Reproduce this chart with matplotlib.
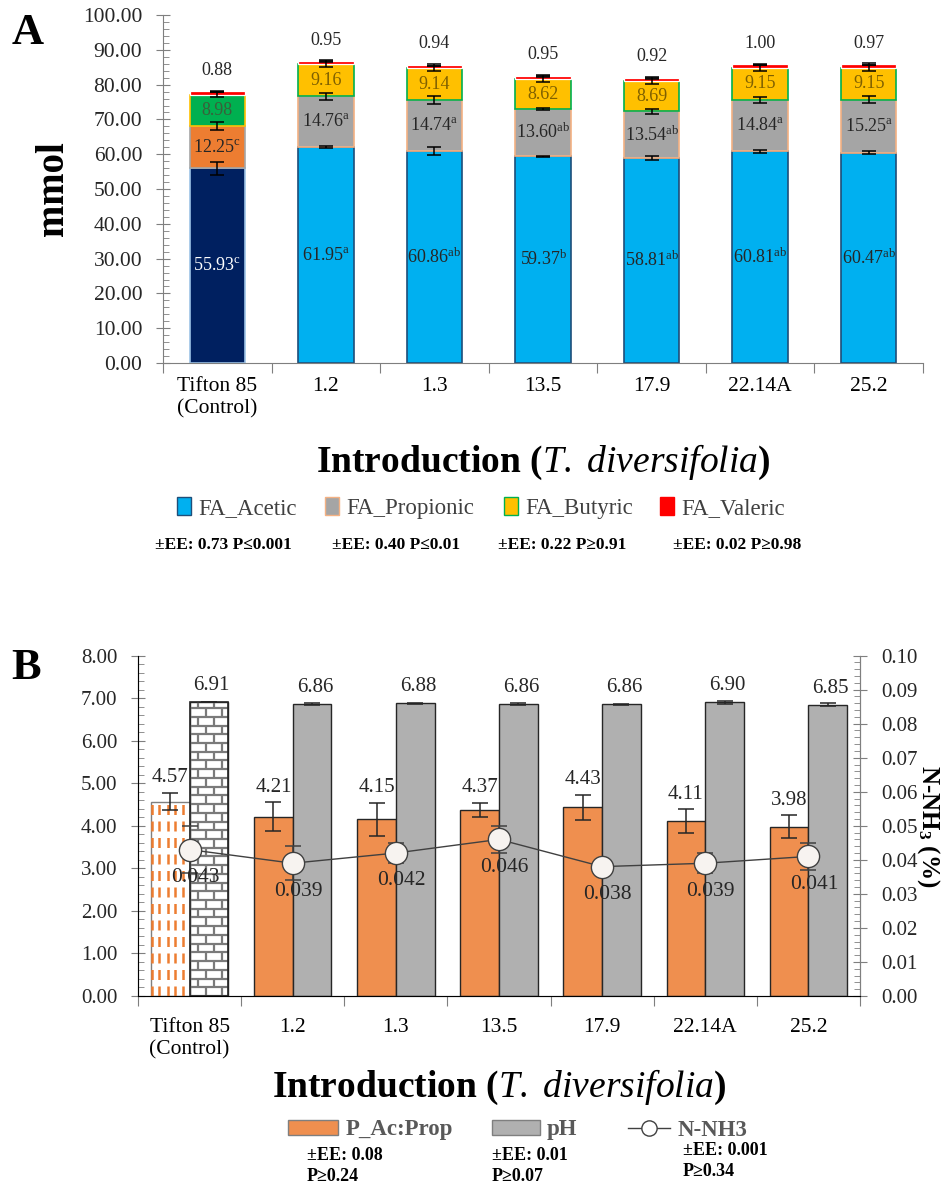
import numpy as np
import matplotlib
matplotlib.use("Agg")
import matplotlib.pyplot as plt
from matplotlib.patches import Patch
from matplotlib.lines import Line2D
from matplotlib.collections import LineCollection
from matplotlib.ticker import MultipleLocator, FormatStrFormatter

plt.rcParams['font.family'] = ['Liberation Serif', 'DejaVu Serif']
plt.rcParams['mathtext.fontset'] = 'custom'
plt.rcParams['mathtext.rm'] = 'Liberation Serif'
plt.rcParams['mathtext.it'] = 'Liberation Serif:italic'
plt.rcParams['mathtext.bf'] = 'Liberation Serif:bold'

# ---- shared categories ----
categories = ["Tifton 85\n(Control)", "1.2", "1.3", "13.5", "17.9", "22.14A", "25.2"]

# ---- panel A: fatty acids (mmol) ----
acetic = [55.93, 61.95, 60.86, 59.37, 58.81, 60.81, 60.47]
acetic_err = [1.9, 0.3, 1.2, 0.1, 0.6, 0.4, 0.5]
acetic_sig = ["c", "a", "ab", "b", "ab", "ab", "ab"]
propionic = [12.25, 14.76, 14.74, 13.60, 13.54, 14.84, 15.25]
propionic_err = [1.2, 1.0, 1.1, 0.4, 0.75, 0.8, 0.9]
propionic_sig = ["c", "a", "a", "ab", "ab", "a", "a"]
butyric = [8.98, 9.16, 9.14, 8.62, 8.69, 9.15, 9.15]
butyric_err = [0.8, 0.8, 0.7, 0.9, 1.0, 0.9, 0.9]
valeric = [0.88, 0.95, 0.94, 0.95, 0.92, 1.00, 0.97]
fa_names = ["FA_Acetic", "FA_Propionic", "FA_Butyric", "FA_Valeric"]
fa_stats = ["±EE: 0.73 P≤0.001", "±EE: 0.40 P≤0.01", "±EE: 0.22 P≥0.91", "±EE: 0.02 P≥0.98"]

# ---- panel B: acetic:propionic ratio, pH, N-NH3 ----
ac_prop = [4.57, 4.21, 4.15, 4.37, 4.43, 4.11, 3.98]
ac_prop_err = [0.21, 0.34, 0.39, 0.17, 0.30, 0.28, 0.27]
ph = [6.91, 6.86, 6.88, 6.86, 6.86, 6.90, 6.85]
ph_err = [0.01, 0.03, 0.01, 0.03, 0.01, 0.03, 0.03]
nnh3 = [0.043, 0.039, 0.042, 0.046, 0.038, 0.039, 0.041]
nnh3_err = [0.007, 0.005, 0.003, 0.004, 0.0005, 0.003, 0.004]
b_names = ["P_Ac:Prop", "pH", "N-NH3"]
b_stats = ["±EE: 0.08\nP≥0.24", "±EE: 0.01\nP≥0.07", "±EE: 0.001\nP≥0.34"]

C_ACET = "#00B0F0"
C_ACET_CTRL = "#002060"
C_PROP = "#A5A5A5"
C_PROP_CTRL = "#ED7D31"
C_BUT = "#FFC000"
C_BUT_CTRL = "#00B050"
C_VAL = "#FF0000"
C_ORANGE = "#EF8F4F"
C_GRAY = "#B0B0B0"
TXT = "#262626"
AXC = "#7F7F7F"

W, H = 944, 1183
x = np.arange(len(categories))
xlab = r"Introduction ($\mathit{T.\ diversifolia}$)"


def key(fig, handle, label, px, py, hlen, **kw):
    """One legend entry whose handle starts at pixel (px, py)."""
    fig.legend([handle], [label], loc="center left", bbox_to_anchor=(px / W, 1 - py / H),
               frameon=False, borderpad=0, borderaxespad=0, handlelength=hlen,
               handletextpad=0.3, **kw)


fig = plt.figure(figsize=(W / 100, H / 100), dpi=100)

# =============== Panel A ===============
axA = fig.add_axes([0.1727, 0.6931, 0.8051, 0.2942])
w = 0.51
ctrl = np.arange(len(categories)) == 0
acet_fc = [C_ACET_CTRL if c else C_ACET for c in ctrl]
acet_ec = ["#9DC3E6" if c else "#1F4E79" for c in ctrl]
prop_fc = [C_PROP_CTRL if c else C_PROP for c in ctrl]
prop_ec = ["#A5A5A5" if c else "#F4B183" for c in ctrl]
but_fc = [C_BUT_CTRL if c else C_BUT for c in ctrl]
but_ec = ["#FFC000" if c else "#00B050" for c in ctrl]

b1 = np.array(acetic)
b2 = b1 + np.array(propionic)
b3 = b2 + np.array(butyric)
b4 = b3 + np.array(valeric)

axA.bar(x, acetic, w, color=acet_fc, edgecolor=acet_ec, linewidth=1.2, zorder=2)
axA.bar(x, propionic, w, bottom=b1, color=prop_fc, edgecolor=prop_ec, linewidth=1.2, zorder=2)
axA.bar(x, butyric, w, bottom=b2, color=but_fc, edgecolor=but_ec, linewidth=1.2, zorder=2)
axA.bar(x, valeric, w, bottom=b3, color=C_VAL, edgecolor="white", linewidth=0.9, zorder=2)

ek = dict(fmt="none", ecolor="black", elinewidth=1.1, capsize=5, capthick=1.1, zorder=4)
axA.errorbar(x, b1, yerr=acetic_err, **ek)
axA.errorbar(x, b2, yerr=propionic_err, **ek)
axA.errorbar(x, b3, yerr=butyric_err, **ek)
axA.errorbar(x, b4, yerr=0.25, **ek)

for i in range(len(categories)):
    acol = "white" if i == 0 else TXT
    axA.text(x[i], acetic[i] / 2, f"{acetic[i]:.2f}$^{{\\mathrm{{{acetic_sig[i]}}}}}$",
             ha="center", va="center", fontsize=13, color=acol, zorder=5)
    axA.text(x[i], b1[i] + propionic[i] / 2, f"{propionic[i]:.2f}$^{{\\mathrm{{{propionic_sig[i]}}}}}$",
             ha="center", va="center", fontsize=13, color=TXT, zorder=5)
    bcol = "#3A5F3A" if i == 0 else "#7F6000"
    axA.text(x[i], b2[i] + butyric[i] / 2, f"{butyric[i]:.2f}",
             ha="center", va="center", fontsize=13, color=bcol, zorder=5)
    axA.text(x[i], b4[i] + 6.0, f"{valeric[i]:.2f}",
             ha="center", va="center", fontsize=13, color=TXT, zorder=5)

axA.set_xlim(-0.5, len(categories) - 0.5)
axA.set_ylim(0, 100)
axA.yaxis.set_major_locator(MultipleLocator(10))
axA.yaxis.set_minor_locator(MultipleLocator(2))
axA.yaxis.set_major_formatter(FormatStrFormatter("%.2f"))
axA.set_xticks(np.arange(-0.5, len(categories)), labels=[])
axA.set_xticks(x, labels=categories, minor=True)
axA.tick_params(axis="x", which="major", direction="out", length=7, color=AXC)
axA.tick_params(axis="x", which="minor", direction="in", length=5, color=AXC,
                labelsize=15.5, pad=10)
axA.tick_params(axis="y", which="major", direction="inout", length=10, color=AXC,
                labelsize=15.5, labelcolor=TXT, pad=10)
axA.tick_params(axis="y", which="minor", direction="in", length=4, color=AXC)
for s in ["top", "right"]:
    axA.spines[s].set_visible(False)
for s in ["left", "bottom"]:
    axA.spines[s].set_color(AXC)
axA.set_ylabel("mmol", fontsize=28, fontweight="bold", labelpad=8)
axA.set_xlabel(xlab, fontsize=27, fontweight="bold", labelpad=18)

legA = [Patch(facecolor=C_ACET, edgecolor="#1F4E79"),
        Patch(facecolor=C_PROP, edgecolor="#F4B183"),
        Patch(facecolor=C_BUT, edgecolor="#00B050"),
        Patch(facecolor=C_VAL, edgecolor=C_VAL)]
for hnd, name, px in zip(legA, fa_names, [177, 325, 504, 660]):
    key(fig, hnd, name, px, 508, 0.62, handleheight=0.85, fontsize=16.5,
        labelcolor="#404040")
for xs, s in zip([223, 396, 562, 737], fa_stats):
    fig.text(xs / W, 1 - 545 / H, s, ha="center", va="center", fontsize=12.5,
             fontweight="bold", color="black")

fig.text(0.012, 0.972, "A", fontsize=32, fontweight="bold", va="center")

# =============== Panel B ===============
axB = fig.add_axes([0.1462, 0.1581, 0.7648, 0.2877])
bw = 0.375
ap_bars = axB.bar(x - bw / 2, ac_prop, bw, color=[("white" if c else C_ORANGE) for c in ctrl],
                  edgecolor=[(AXC if c else "#262626") for c in ctrl], linewidth=1, zorder=2)
ph_bars = axB.bar(x + bw / 2, ph, bw, color=[("white" if c else C_GRAY) for c in ctrl],
                  edgecolor="#262626", linewidth=1, zorder=2)

# control Ac:Prop bar: dashed orange vertical stripes
p = ap_bars[0]
xs_d = p.get_x() + p.get_width() * np.array([0.03, 0.22, 0.43, 0.62, 0.84])
vl = axB.vlines(xs_d, 0, p.get_height(), colors=C_PROP_CTRL, linestyles=(0, (4, 2.6)),
                linewidth=1.8, zorder=3)
vl.set_clip_path(p)

# control pH bar: brick pattern
p = ph_bars[0]
x0, x1 = p.get_x(), p.get_x() + p.get_width()
row_h = 0.205
brick_w = p.get_width() / 2.4
segs = []
rows = np.arange(0, p.get_height() + row_h, row_h)
for k, yb in enumerate(rows):
    segs.append([(x0, yb), (x1, yb)])
    off = 0 if k % 2 == 0 else brick_w / 2
    for xv in np.arange(x0 + off, x1 + brick_w, brick_w):
        segs.append([(xv, yb), (xv, yb + row_h)])
lc = LineCollection(segs, colors="#7A7A7A", linewidths=1.6, zorder=3)
axB.add_collection(lc)
lc.set_clip_path(p)
axB.bar(x[0] + bw / 2, ph[0], bw, color="none", edgecolor="#262626", linewidth=1.2, zorder=3.5)

ekb = dict(fmt="none", ecolor="#262626", elinewidth=1.1, capsize=6, capthick=1.1, zorder=4)
axB.errorbar(x - bw / 2, ac_prop, yerr=ac_prop_err, **ekb)
axB.errorbar(x + bw / 2, ph, yerr=ph_err, **ekb)

for i in range(len(categories)):
    axB.annotate(f"{ac_prop[i]:.2f}", (x[i] - bw / 2, ac_prop[i] + ac_prop_err[i]),
                 xytext=(0, 4), textcoords="offset points", ha="center", va="bottom",
                 fontsize=15, color=TXT, zorder=5)
    axB.annotate(f"{ph[i]:.2f}", (x[i] + bw / 2, ph[i]),
                 xytext=(2, 5), textcoords="offset points", ha="center", va="bottom",
                 fontsize=15, color=TXT, zorder=5)

axB.set_xlim(-0.5, len(categories) - 0.5)
axB.set_ylim(0, 8)
axB.yaxis.set_major_locator(MultipleLocator(1))
axB.yaxis.set_minor_locator(MultipleLocator(0.2))
axB.yaxis.set_major_formatter(FormatStrFormatter("%.2f"))
axB.set_xticks(np.arange(-0.5, len(categories)), labels=[])
axB.set_xticks(x, labels=categories, minor=True)
axB.tick_params(axis="x", which="major", direction="out", length=7, color=AXC)
axB.tick_params(axis="x", which="minor", length=0, labelsize=15.5, pad=16)
axB.tick_params(axis="y", which="major", direction="inout", length=10, color=AXC,
                labelsize=15, labelcolor=TXT, pad=10)
axB.tick_params(axis="y", which="minor", direction="in", length=4, color=AXC)
axB.spines["top"].set_visible(False)
for s in ["left", "bottom", "right"]:
    axB.spines[s].set_color(AXC)
axB.set_xlabel(xlab, fontsize=27, fontweight="bold", labelpad=6)

axB2 = axB.twinx()
axB2.set_ylim(0, 0.1)
axB2.yaxis.set_major_locator(MultipleLocator(0.01))
axB2.yaxis.set_minor_locator(MultipleLocator(0.002))
axB2.yaxis.set_major_formatter(FormatStrFormatter("%.2f"))
axB2.tick_params(axis="y", which="major", direction="inout", length=10, color=AXC,
                 labelsize=15, labelcolor=TXT, pad=10)
axB2.tick_params(axis="y", which="minor", direction="in", length=4, color=AXC)
axB2.spines["top"].set_visible(False)
axB2.spines["right"].set_color(AXC)
axB2.errorbar(x, nnh3, yerr=nnh3_err, fmt="none", ecolor="#404040", elinewidth=1.1,
              capsize=6, capthick=1.1, zorder=3)
axB2.plot(x, nnh3, color="#404040", linewidth=1, marker="o", markersize=16,
          markerfacecolor="#F7F3F0", markeredgecolor="#404040", markeredgewidth=1, zorder=4)
for i in range(len(categories)):
    axB2.annotate(f"{nnh3[i]:.3f}", (x[i], nnh3[i]), xytext=(4, -20),
                  textcoords="offset points", ha="center", va="center",
                  fontsize=15.5, color=TXT, zorder=5)
axB2.set_ylabel(r"N-NH$_\mathbf{3}$ (%)", fontsize=18, fontweight="bold",
                rotation=270, labelpad=18)

legB = [Patch(facecolor=C_ORANGE, edgecolor="#7F7F7F"),
        Patch(facecolor=C_GRAY, edgecolor="#7F7F7F"),
        Line2D([], [], color="#404040", linewidth=1, marker="o", markersize=11,
               markerfacecolor="white", markeredgecolor="#404040")]
for hnd, name, px, hl in zip(legB, b_names, [288, 492, 628], [2.2, 2.1, 1.85]):
    key(fig, hnd, name, px, 1130, hl, handleheight=0.6, labelcolor="#595959",
        prop={"weight": "bold", "size": 16.5})
for xs, ys, s in zip([307, 492, 683], [1166, 1166, 1161], b_stats):
    fig.text(xs / W, 1 - ys / H, s, ha="left", va="center", fontsize=13,
             fontweight="bold", color="black", linespacing=1.3)

fig.text(0.012, 1 - 668 / H, "B", fontsize=32, fontweight="bold", va="center")

fig.savefig("out.png", dpi=100)
